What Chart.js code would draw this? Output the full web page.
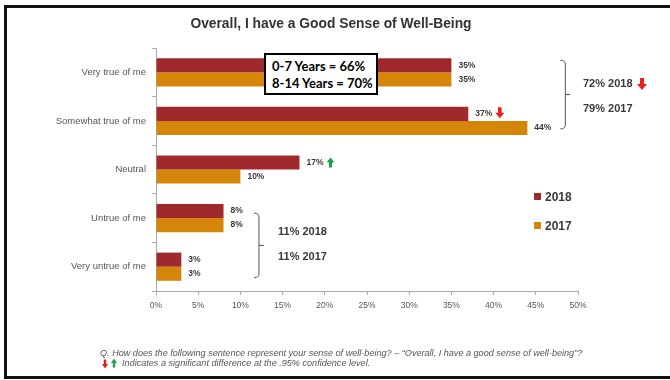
<!DOCTYPE html>
<html>
<head>
<meta charset="utf-8">
<script src="https://cdn.jsdelivr.net/npm/chart.js@4.4.1/dist/chart.umd.min.js"></script>
<style>
  body { margin: 0; background: #fff; overflow: hidden; }
  #wrap { position: relative; width: 670px; height: 380px; overflow: hidden;
          font-family: "Liberation Sans", Arial, sans-serif; }
  #frame { position: absolute; left: 4px; top: 5px; width: 700px; height: 368px;
           border: 3px solid #111; border-right: none; }
  canvas { position: absolute; left: 0; top: 0; }
  .t { position: absolute; white-space: nowrap; color: #3a3a3a; }
  #title { left: 0; width: 662px; top: 16px; text-align: center; font-weight: bold;
           font-size: 13.8px; line-height: 16px; color: #333; }
  #agebox { position: absolute; left: 264px; top: 53px; width: 114px; height: 42px;
            box-sizing: border-box; border: 2px solid #000; background: #fff;
            padding: 3px 0 0 6px; font-family: Lato, "Liberation Sans", sans-serif;
            font-weight: bold; font-size: 13px; line-height: 17px; color: #000; }
  .sum { font-weight: bold; font-size: 11px; line-height: 12px; }
  .leg { font-weight: bold; font-size: 12px; line-height: 14px; }
  .leg i { display: inline-block; width: 7px; height: 7px; margin-right: 4px; vertical-align: 1px; }
  .note { font-style: italic; font-size: 9.1px; line-height: 10px; color: #555; }
</style>
</head>
<body>
<div id="wrap">
  <div id="frame"></div>
  <canvas id="chart" width="670" height="380"></canvas>
  <div class="t" id="title">Overall, I have a Good Sense of Well-Being</div>
  <div id="agebox">0-7 Years = 66%<br>8-14 Years = 70%</div>
  <div class="t sum" style="left:583px; top:77px;">72% 2018</div>
  <div class="t sum" style="left:583px; top:102px;">79% 2017</div>
  <div class="t sum" style="left:278px; top:225px;">11% 2018</div>
  <div class="t sum" style="left:278px; top:250px;">11% 2017</div>
  <div class="t leg" id="leg0" style="left:534px; top:190px;"></div>
  <div class="t leg" id="leg1" style="left:534px; top:219px;"></div>
  <div class="t note" style="left:100px; top:348px;">Q. How does the following sentence represent your sense of well-being? – “Overall, I have a good sense of well-being”?</div>
  <div class="t note" style="left:122px; top:358px;">Indicates a significant difference at the .95% confidence level.</div>
</div>
<script>
// responses and shares per survey year
const categories = ['Very true of me', 'Somewhat true of me', 'Neutral', 'Untrue of me', 'Very untrue of me'];
const years = ['2018', '2017'];
const values2018 = [35, 37, 17, 8, 3];
const values2017 = [35, 44, 10, 8, 3];
// significance markers for the 2018 bars
const sig2018 = ['', 'down', '', '', ''];
const sigUp2018 = ['', '', 'up', '', ''];
const xTicks = [0, 5, 10, 15, 20, 25, 30, 35, 40, 45, 50];

const colors = ['#A0292E', '#D4860B'];
const labelFont = '"Liberation Sans", Arial, sans-serif';

// legend entries
years.forEach((y, i) => {
  document.getElementById('leg' + i).innerHTML = '<i style="background:' + colors[i] + '"></i>' + y;
});

function arrow(ctx, left, cy, dir, w, h) {
  const s = w * 0.4;
  const mid = left + w / 2;
  ctx.fillStyle = dir === 'down' ? '#E8211C' : '#1BA34B';
  ctx.beginPath();
  if (dir === 'down') {
    const top = cy - h / 2, head = cy;
    ctx.moveTo(mid - s / 2, top);
    ctx.lineTo(mid + s / 2, top);
    ctx.lineTo(mid + s / 2, head);
    ctx.lineTo(left + w, head);
    ctx.lineTo(mid, cy + h / 2);
    ctx.lineTo(left, head);
    ctx.lineTo(mid - s / 2, head);
  } else {
    const bot = cy + h / 2, head = cy;
    ctx.moveTo(mid - s / 2, bot);
    ctx.lineTo(mid + s / 2, bot);
    ctx.lineTo(mid + s / 2, head);
    ctx.lineTo(left + w, head);
    ctx.lineTo(mid, cy - h / 2);
    ctx.lineTo(left, head);
    ctx.lineTo(mid - s / 2, head);
  }
  ctx.closePath();
  ctx.fill();
}

function brace(ctx, x, top, bottom) {
  const mid = (top + bottom) / 2;
  ctx.beginPath();
  ctx.moveTo(x - 5, top);
  ctx.quadraticCurveTo(x, top, x, top + 4);
  ctx.lineTo(x, bottom - 4);
  ctx.quadraticCurveTo(x, bottom, x - 5, bottom);
  ctx.moveTo(x, mid);
  ctx.lineTo(x + 5, mid);
  ctx.stroke();
}

// value labels, significance arrows and the grouping braces
const overlay = {
  id: 'overlay',
  afterDatasetsDraw(chart) {
    const ctx = chart.ctx;
    const xs = chart.scales.x;
    ctx.save();
    ctx.font = 'bold 8.5px ' + labelFont;
    ctx.textBaseline = 'middle';
    chart.data.datasets.forEach((ds, di) => {
      chart.getDatasetMeta(di).data.forEach((bar, i) => {
        const txt = ds.data[i] + '%';
        const tx = bar.x + 7;
        ctx.fillStyle = '#3a3a3a';
        ctx.fillText(txt, tx, bar.y);
        if (di === 0) {
          const ax = tx + ctx.measureText(txt).width + 3;
          if (sig2018[i]) arrow(ctx, ax, bar.y - 1, 'down', 9, 11);
          if (sigUp2018[i]) arrow(ctx, ax, bar.y, 'up', 8, 10);
        }
      });
    });

    const m0 = chart.getDatasetMeta(0).data;
    const m1 = chart.getDatasetMeta(1).data;
    ctx.strokeStyle = '#555';
    ctx.lineWidth = 1;
    brace(ctx, xs.getPixelForValue(48.5), m0[0].y - 5, m1[1].y + 1);
    brace(ctx, xs.getPixelForValue(12.2), m0[3].y + 2, m1[4].y + 4);

    // arrows beside the summary text and the footnote
    arrow(ctx, 637, 84, 'down', 10, 12);
    arrow(ctx, 102, 364, 'down', 6, 9);
    arrow(ctx, 111, 363, 'up', 6, 9);
    ctx.restore();
  }
};

new Chart(document.getElementById('chart'), {
  type: 'bar',
  data: {
    labels: categories,
    datasets: [
      { label: years[0], data: values2018, backgroundColor: colors[0] },
      { label: years[1], data: values2017, backgroundColor: colors[1] }
    ]
  },
  options: {
    indexAxis: 'y',
    responsive: false,
    animation: false,
    devicePixelRatio: 1,
    layout: { padding: { left: 0, top: 48, right: 92, bottom: 0 } },
    datasets: { bar: { barPercentage: 1, categoryPercentage: 0.58 } },
    plugins: {
      legend: { display: false },
      title: { display: false },
      tooltip: { enabled: false }
    },
    scales: {
      x: {
        min: 0,
        max: 50,
        afterBuildTicks(scale) { scale.ticks = xTicks.map(v => ({ value: v })); },
        afterFit(scale) { scale.height = 89; },
        ticks: {
          callback: v => v + '%',
          color: '#555',
          padding: 6,
          font: { family: labelFont, size: 8.5 }
        },
        grid: { drawOnChartArea: false, tickLength: 4, color: '#aaa' },
        border: { color: '#aaa' }
      },
      y: {
        afterFit(scale) { scale.width = 156; },
        ticks: {
          color: '#555',
          padding: 6,
          font: { family: labelFont, size: 9.5 }
        },
        grid: { drawOnChartArea: false, tickLength: 4, color: '#aaa', offset: true },
        border: { color: '#aaa' }
      }
    }
  },
  plugins: [overlay]
});
</script>
</body>
</html>
